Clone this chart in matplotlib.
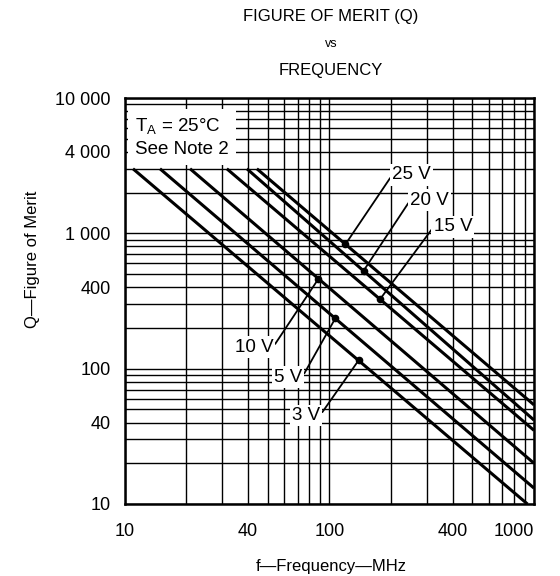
import numpy as np
import matplotlib.pyplot as plt
from matplotlib.ticker import FixedLocator, NullFormatter

plt.rcParams['font.family'] = ['Liberation Sans', 'DejaVu Sans']

# curves: each one leaves Q = 3000 at f_start and runs straight (log-log) to (f_end, q_end)
volts = ['3 V', '5 V', '10 V', '15 V', '20 V', '25 V']
q_start = 3000
f_start = [11.0, 14.9, 20.9, 31.6, 39.6, 44.3]
f_end = [929, 1000, 1000, 1000, 1000, 1000]
q_end = [10, 13.1, 20, 35, 41.7, 54]

# labels: text position (f, Q), side of the text, and frequency where the leader hits the curve
label_f = [90.4, 73.8, 53.2, 323, 249, 203]
label_q = [45.4, 86.7, 144.5, 1114, 1763, 2700]
label_side = ['right', 'right', 'right', 'left', 'left', 'left']
point_f = [139, 107, 88.6, 177, 147, 120]

x_ticks = [10, 40, 100, 400, 1000]
x_labels = ['10', '40', '100', '400', '1000']
y_ticks = [10, 40, 100, 400, 1000, 4000, 10000]
y_labels = ['10', '40', '100', '400', '1 000', '4 000', '10 000']


def q_on_curve(i, f):
    lf = [np.log10(f_start[i]), np.log10(f_end[i])]
    lq = [np.log10(q_start), np.log10(q_end[i])]
    return 10 ** np.interp(np.log10(f), lf, lq)


fig = plt.figure(figsize=(5.6, 5.76), dpi=100)
ax = fig.add_axes([124.5 / 560, 1 - 504 / 576, 409.5 / 560, 406 / 576])
ax.set_xscale('log')
ax.set_yscale('log')
ax.set_xlim(10, 1000)
ax.set_ylim(10, 10000)

minor = [m * 10 ** e for e in range(1, 4) for m in range(1, 10)]
ax.xaxis.set_major_locator(FixedLocator(x_ticks))
ax.xaxis.set_minor_locator(FixedLocator(minor))
ax.yaxis.set_major_locator(FixedLocator(y_ticks))
ax.yaxis.set_minor_locator(FixedLocator(minor))
ax.xaxis.set_minor_formatter(NullFormatter())
ax.yaxis.set_minor_formatter(NullFormatter())
ax.set_xticklabels(x_labels)
ax.set_yticklabels(y_labels)
ax.get_xticklabels()[-1].set_horizontalalignment('right')
ax.tick_params(which='both', length=0, labelsize=13)
ax.tick_params(axis='x', pad=14)
ax.tick_params(axis='y', pad=10)
ax.grid(which='both', color='black', linewidth=1.0)
ax.set_axisbelow(True)
for s in ax.spines.values():
    s.set_linewidth(1.8)

for i in range(len(volts)):
    ax.plot([f_start[i], f_end[i]], [q_start, q_end[i]], color='black', linewidth=2.2,
            solid_capstyle='butt')

# condition box
ax.text(11.25, 5100, 'T$_\\mathregular{A}$ = 25\u00b0C\nSee Note 2', fontsize=13.5,
        ha='left', va='center', linespacing=1.3,
        bbox=dict(facecolor='white', edgecolor='none', pad=5))

for i in range(len(volts)):
    px = point_f[i]
    py = q_on_curve(i, px)
    rel = (0, 0.5) if label_side[i] == 'left' else (1, 0.5)
    ha = 'left' if label_side[i] == 'left' else 'right'
    ax.annotate(volts[i], xy=(px, py), xytext=(label_f[i], label_q[i]),
                ha=ha, va='center', fontsize=13.5,
                bbox=dict(facecolor='white', edgecolor='none', pad=1.5),
                arrowprops=dict(arrowstyle='-', color='black', linewidth=1.3,
                                shrinkA=0, shrinkB=0, relpos=rel))
    ax.plot(px, py, 'o', color='black', markersize=4.5)

fig.text(331 / 560, 1 - 16 / 576, 'FIGURE OF MERIT (Q)', ha='center', va='center', fontsize=12)
fig.text(331 / 560, 1 - 44 / 576, 'vs', ha='center', va='center', fontsize=9)
fig.text(331 / 560, 1 - 70 / 576, 'FREQUENCY', ha='center', va='center', fontsize=12)
fig.text(331 / 560, 1 - 567 / 576, 'f\u2014Frequency\u2014MHz', ha='center', va='center', fontsize=12)
fig.text(33 / 560, 1 - 259 / 576, 'Q\u2014Figure of Merit', ha='center', va='center',
         rotation=90, fontsize=12)

fig.savefig('out.png', dpi=100)
